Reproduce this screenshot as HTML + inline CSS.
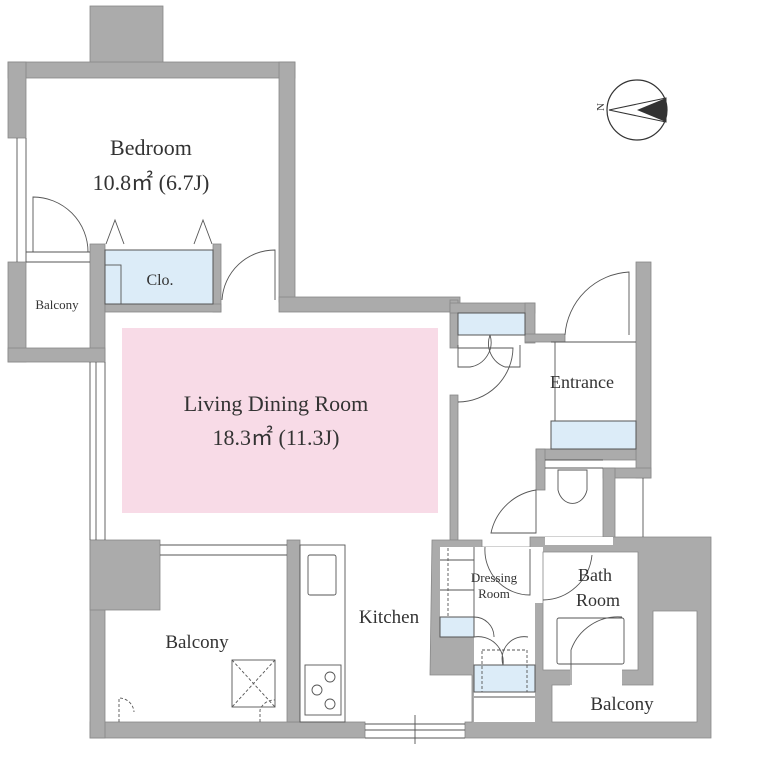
<!DOCTYPE html>
<html><head><meta charset="utf-8"><style>
body{margin:0;background:#fff}
svg{display:block}
text{font-family:"Liberation Serif",serif;fill:#333}
</style></head><body>
<svg width="761" height="779" viewBox="0 0 761 779" xmlns="http://www.w3.org/2000/svg">
<g fill="#ababab" stroke="#888" stroke-width="0.8">
<rect x="90" y="6" width="73" height="57"/>
<rect x="8" y="62" width="287" height="16"/>
<rect x="8" y="62" width="18" height="76"/>
<rect x="279" y="62" width="16" height="240"/>
<rect x="279" y="297" width="181" height="15"/>
<rect x="90" y="244" width="15" height="118"/>
<rect x="213" y="244" width="8" height="68"/>
<rect x="105" y="304" width="116" height="8"/>
<rect x="8" y="262" width="18" height="100"/>
<rect x="8" y="348" width="97" height="14"/>
<rect x="450" y="300" width="8" height="48"/>
<rect x="450" y="303" width="85" height="10"/>
<rect x="525" y="303" width="10" height="40"/>
<rect x="525" y="334" width="40" height="8"/>
<rect x="450" y="395" width="8" height="145"/>
<rect x="636" y="262" width="15" height="216"/>
<rect x="536" y="449" width="100" height="11"/>
<rect x="536" y="449" width="9" height="41"/>
<rect x="603" y="468" width="48" height="10"/>
<rect x="603" y="468" width="12" height="72"/>
<rect x="90" y="722" width="275" height="16"/>
<rect x="90" y="540" width="15" height="198"/>
<rect x="90" y="540" width="70" height="70"/>
<rect x="287" y="540" width="13" height="182"/>
<path d="M432 540 H482 V547 H530 V537 H711 V738 H465 V722 H472 V675 H430 Z"/>
</g>
<g fill="#fff">
<rect x="440" y="547" width="95" height="90"/>
<rect x="474" y="630" width="61" height="92"/>
<rect x="545" y="537" width="68" height="8"/>
<rect x="543" y="552" width="95" height="118"/>
<rect x="570" y="669" width="52" height="17"/>
<rect x="552" y="685" width="145" height="37"/>
<rect x="653" y="611" width="44" height="76"/>
<rect x="535" y="547" width="8" height="56"/>
</g>
<g fill="none" stroke="#888" stroke-width="0.8">
<path d="M543 603 V552 H638 V670 H622 M570 670 H543 V603"/>
<path d="M570 685 H552 V722 H697 V611 H653 V685 H622"/>
</g>
<rect x="122" y="328" width="316" height="185" fill="#f8dbe7"/>
<g fill="#dcecf8" stroke="#555" stroke-width="1">
<rect x="105" y="250" width="108" height="54"/>
<rect x="458" y="313" width="67" height="22"/>
<rect x="551" y="421" width="85" height="28"/>
<rect x="440" y="617" width="34" height="20"/>
<rect x="474" y="665" width="61" height="27"/>
</g>
<g fill="none" stroke="#555" stroke-width="0.9">
<rect x="105" y="265" width="16" height="39"/>
<line x1="17" y1="138" x2="17" y2="262"/><line x1="26" y1="138" x2="26" y2="262"/>
<line x1="90" y1="362" x2="90" y2="540"/><line x1="96" y1="362" x2="96" y2="540"/><line x1="105" y1="362" x2="105" y2="540"/>
<line x1="160" y1="545" x2="287" y2="545"/><line x1="160" y1="555" x2="287" y2="555"/>
<line x1="365" y1="724" x2="465" y2="724"/><line x1="365" y1="730" x2="465" y2="730"/><line x1="365" y1="738" x2="465" y2="738"/>
<line x1="415" y1="715" x2="415" y2="744"/>
<line x1="26" y1="252" x2="90" y2="252"/><line x1="26" y1="262" x2="90" y2="262"/>
<path d="M33 252 V197 A55 55 0 0 1 88 252"/>
<path d="M275 300 V250 A53 53 0 0 0 222 300"/>
<path d="M106 244 L115 220 L124 244 M194 244 L203 220 L212 244"/>
<path d="M458 345 V367 H470 A25 25 0 0 0 490 335 M520 345 V367 H505 A25 25 0 0 1 490 335"/>
<path d="M458 402 A55 55 0 0 0 513 348 H458"/>
<path d="M565 335 A68 68 0 0 1 629 272 V335"/>
<line x1="555" y1="342" x2="555" y2="421"/><line x1="551" y1="342" x2="636" y2="342"/>
<line x1="545" y1="460" x2="603" y2="460"/><line x1="545" y1="468" x2="603" y2="468"/>
<path d="M558 470 H587 V490 A15 18 0 0 1 558 490 Z"/>
<path d="M491 533 A55 55 0 0 1 536 490 V533 Z"/>
<line x1="643" y1="478" x2="643" y2="537"/>
<path d="M485 547 A45 45 0 0 0 530 595 V549"/>
<path d="M543 600 A50 50 0 0 0 592 555"/>
<line x1="440" y1="560" x2="474" y2="560"/><line x1="440" y1="590" x2="474" y2="590"/>
<line x1="474" y1="547" x2="474" y2="637"/>
<path d="M474 617 A20 20 0 0 1 494 637"/>
<path d="M474 637 A25 25 0 0 1 503 665 M503 665 A22 22 0 0 1 528 637"/>
<line x1="474" y1="697" x2="535" y2="697"/>
<rect x="557" y="618" width="67" height="46" rx="2"/>
<path d="M571 685 V650 A50 50 0 0 1 622 617"/>
<rect x="300" y="545" width="45" height="177"/>
<rect x="308" y="555" width="28" height="40" rx="2"/>
<rect x="305" y="665" width="36" height="50"/>
<circle cx="330" cy="677" r="5"/><circle cx="317" cy="690" r="5"/><circle cx="330" cy="704" r="5"/>
<rect x="232" y="660" width="43" height="47"/>
<path d="M232 660 L275 707 M275 660 L232 707 M119 722 V698 A15 15 0 0 1 134 712 M260 722 V710 A15 15 0 0 1 275 700" stroke-dasharray="3 2"/>
<rect x="482" y="650" width="45" height="42" stroke-dasharray="3 2"/>
<line x1="448" y1="548" x2="448" y2="617" stroke-dasharray="3 2"/>
</g>
<g>
<circle cx="637" cy="110" r="30" fill="#fff" stroke="#333" stroke-width="1.2"/>
<path d="M609 110 L666 98 L666 122 Z" fill="#fff" stroke="#333"/>
<path d="M637 110 L666 98 L666 122 Z" fill="#333"/>
<text x="600" y="115" font-size="11" transform="rotate(-90 600 111)">N</text>
</g>
<g text-anchor="middle">
<text x="151" y="155" font-size="22">Bedroom</text>
<text x="151" y="190" font-size="22">10.8㎡ (6.7J)</text>
<text x="160" y="285" font-size="16">Clo.</text>
<text x="57" y="309" font-size="13">Balcony</text>
<text x="276" y="411" font-size="22">Living Dining Room</text>
<text x="276" y="445" font-size="22">18.3㎡ (11.3J)</text>
<text x="582" y="388" font-size="18">Entrance</text>
<text x="389" y="623" font-size="19">Kitchen</text>
<text x="197" y="648" font-size="19">Balcony</text>
<text x="595" y="581" font-size="18">Bath</text>
<text x="598" y="606" font-size="18">Room</text>
<text x="494" y="582" font-size="13">Dressing</text>
<text x="494" y="598" font-size="13">Room</text>
<text x="622" y="710" font-size="19">Balcony</text>
</g>
</svg>
</body></html>
